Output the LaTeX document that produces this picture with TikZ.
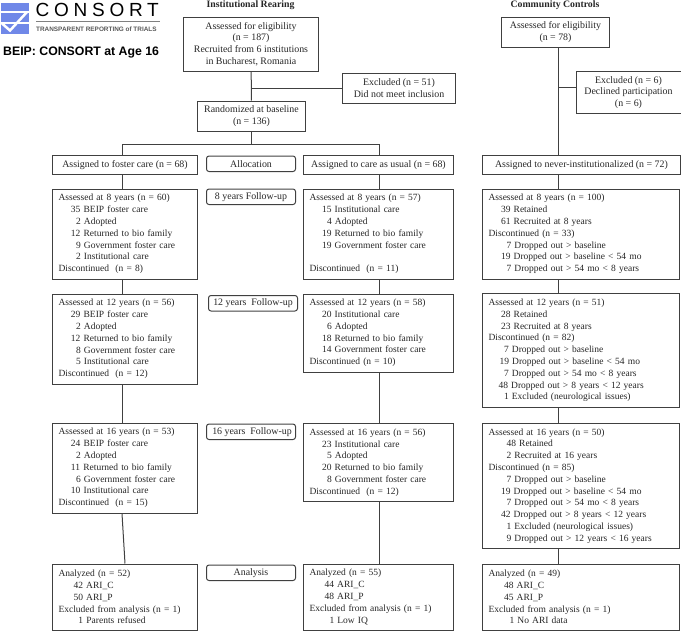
\documentclass[tikz,border=0pt]{standalone}
\usepackage{fontspec}
\setmainfont{Liberation Serif}
\newfontfamily\logofont[LetterSpace=25]{Liberation Sans}
\newfontfamily\sansfont{Liberation Sans}
\usetikzlibrary{positioning}
\definecolor{logoblue}{HTML}{7088E8}
\definecolor{linegrey}{HTML}{404040}
\definecolor{textgrey}{HTML}{262626}
\newcommand{\ind}[1]{\hspace*{#1pt}}
\tikzset{
  basebox/.style={draw=linegrey,line width=1pt,anchor=north west,inner ysep=0pt,text=textgrey},
  listbox/.style={basebox,align=left,inner xsep=6pt,text width=#1pt-12pt,font=\fontsize{9.5}{11.8}\selectfont},
  midbox/.style={basebox,align=center,inner xsep=0pt,font=\fontsize{9.9}{11.8}\selectfont},
  tagbox/.style={midbox,rounded corners=2.5pt,minimum width=89pt,minimum height=15.5pt},
  conn/.style={draw=linegrey,line width=1pt},
  head/.style={font=\fontsize{9.8}{11}\selectfont\bfseries,text=textgrey}
}
\begin{document}
\begin{tikzpicture}[x=1pt,y=1pt]
  \useasboundingbox (0,0) rectangle (681,-632);
  % Logo
  \fill[logoblue] (1,-2.5) rectangle (29,-33.5);
  \fill[white] (1,-11) rectangle (29,-13);
  \fill[white] (1,-21.5) rectangle (29,-23.5);
  \draw[white,line width=2.5pt] (2,-23.5) -- (10,-30.5) -- (27,-12);
  \node[anchor=west,inner sep=0pt,font=\logofont\fontsize{19}{20}\selectfont] (logoname) at (35.5,-10) {CONSORT};
  \draw[black!50,line width=0.6pt] (36,-21) -- (160,-21);
  \node[anchor=west,inner sep=0pt,text=black!65,font=\sansfont\bfseries\fontsize{6.4}{8}\selectfont] (logosub) at (36,-29) {TRANSPARENT REPORTING of TRIALS};
  \node[anchor=west,inner sep=0pt,font=\sansfont\bfseries\fontsize{12.3}{14}\selectfont] (title) at (3,-52.5) {BEIP: CONSORT at Age 16};
  % Column heads
  \node[head] (insthead) at (250.5,-5) {Institutional Rearing};
  \node[head] (commhead) at (555,-5) {Community Controls};
  % Enrolment
  \node[midbox,minimum width=135pt,minimum height=54pt] (assess) at (183,-16.5) {Assessed for eligibility\\(n = 187)\\Recruited from 6 institutions\\in Bucharest, Romania};
  \node[midbox,minimum width=108pt,minimum height=30pt] (random) at (197,-100.5) {Randomized at baseline\\(n = 136)};
  \node[midbox,minimum width=113pt,minimum height=30pt] (excl) at (342,-73) {Excluded (n = 51)\\Did not meet inclusion};
  \node[midbox,minimum width=108pt,minimum height=30pt] (commtop) at (501,-16.5) {Assessed for eligibility\\(n = 78)};
  \node[midbox,minimum width=105pt,minimum height=42pt] (commexcl) at (575.5,-71) {Excluded (n = 6)\\Declined participation\\(n = 6)};
  % Allocation
  \node[midbox,minimum width=145pt,minimum height=18.5pt] (foster) at (52,-155) {Assigned to foster care (n = 68)};
  \node[tagbox] (taga) at (206,-155.5) {Allocation};
  \node[midbox,minimum width=150pt,minimum height=18.5pt] (care) at (303,-155) {Assigned to care as usual (n = 68)};
  \node[midbox,minimum width=198pt,minimum height=18.5pt] (never) at (482,-155) {Assigned to never-institutionalized (n = 72)};
  % Foster care column
  \node[listbox=145,minimum height=90pt] (left8) at (52,-188.5) {Assessed at 8 years (n = 60)\\\ind{12.5}35 BEIP foster care\\\ind{17.5}2 Adopted\\\ind{12.5}12 Returned to bio family\\\ind{17.5}9 Government foster care\\\ind{17.5}2 Institutional care\\Discontinued\ \ (n = 8)};
  \node[listbox=145,minimum height=90pt] (left12) at (52,-293.5) {Assessed at 12 years (n = 56)\\\ind{12.5}29 BEIP foster care\\\ind{17.5}2 Adopted\\\ind{12.5}12 Returned to bio family\\\ind{17.5}8 Government foster care\\\ind{17.5}5 Institutional care\\Discontinued\ \ (n = 12)};
  \node[listbox=145,minimum height=90pt] (left16) at (52,-422.5) {Assessed at 16 years (n = 53)\\\ind{12.5}24 BEIP foster care\\\ind{17.5}2 Adopted\\\ind{12.5}11 Returned to bio family\\\ind{17.5}6 Government foster care\\\ind{12.5}10 Institutional care\\Discontinued\ \ (n = 15)};
  \node[listbox=145,minimum height=66pt] (lefta) at (52,-563.5) {Analyzed (n = 52)\\\ind{15}42 ARI\_C\\\ind{15}50 ARI\_P\\Excluded from analysis (n = 1)\\\ind{20}1 Parents refused};
  % Follow-up tags
  \node[tagbox] (tag8) at (206,-188.5) {8 years Follow-up};
  \node[tagbox] (tag12) at (208,-295) {12 years\ \ Follow-up};
  \node[tagbox] (tag16) at (206,-423.5) {\ind{2}16 years\ \ Follow-up};
  \node[tagbox] (tagan) at (206,-564.5) {Analysis};
  % Care as usual column
  \node[listbox=150,minimum height=90pt] (mid8) at (303,-188.5) {Assessed at 8 years (n = 57)\\\ind{12.5}15 Institutional care\\\ind{17.5}4 Adopted\\\ind{12.5}19 Returned to bio family\\\ind{12.5}19 Government foster care\\[11.8pt]Discontinued\ \ (n = 11)};
  \node[listbox=150,minimum height=78pt] (mid12) at (303,-293.5) {Assessed at 12 years (n = 58)\\\ind{12.5}20 Institutional care\\\ind{17.5}6 Adopted\\\ind{12.5}18 Returned to bio family\\\ind{12.5}14 Government foster care\\Discontinued (n = 10)};
  \node[listbox=150,minimum height=78pt] (mid16) at (303,-423) {Assessed at 16 years (n = 56)\\\ind{12.5}23 Institutional care\\\ind{17.5}5 Adopted\\\ind{12.5}20 Returned to bio family\\\ind{17.5}8 Government foster care\\Discontinued\ \ (n = 12)};
  \node[listbox=150,minimum height=66pt] (mida) at (303,-563.5) {Analyzed (n = 55)\\\ind{15}44 ARI\_C\\\ind{15}48 ARI\_P\\Excluded from analysis (n = 1)\\\ind{20}1 Low IQ};
  % Community column
  \node[listbox=197,minimum height=90pt] (comm8) at (482,-188.5) {Assessed at 8 years (n = 100)\\\ind{12.5}39 Retained\\\ind{12.5}61 Recruited at 8 years\\Discontinued (n = 33)\\\ind{18}7 Dropped out > baseline\\\ind{12.5}19 Dropped out > baseline < 54 mo\\\ind{18}7 Dropped out > 54 mo < 8 years};
  \node[listbox=197,minimum height=114pt] (comm12) at (482,-293) {Assessed at 12 years (n = 51)\\\ind{12.5}28 Retained\\\ind{12.5}23 Recruited at 8 years\\Discontinued (n = 82)\\\ind{15.5}7 Dropped out > baseline\\\ind{11}19 Dropped out > baseline < 54 mo\\\ind{15.5}7 Dropped out > 54 mo < 8 years\\\ind{10}48 Dropped out > 8 years < 12 years\\\ind{15.5}1 Excluded (neurological issues)};
  \node[listbox=197,minimum height=125pt] (comm16) at (482,-423) {Assessed at 16 years (n = 50)\\\ind{18}48 Retained\\\ind{18}2 Recruited at 16 years\\Discontinued (n = 85)\\\ind{18}7 Dropped out > baseline\\\ind{12.5}19 Dropped out > baseline < 54 mo\\\ind{18}7 Dropped out > 54 mo < 8 years\\\ind{12.5}42 Dropped out > 8 years < 12 years\\\ind{18}1 Excluded (neurological issues)\\\ind{18}9 Dropped out > 12 years < 16 years};
  \node[listbox=197,minimum height=66pt] (comma) at (482,-563.5) {Analyzed (n = 49)\\\ind{15.5}48 ARI\_C\\\ind{15.5}45 ARI\_P\\Excluded from analysis (n = 1)\\\ind{21}1 No ARI data};
  % Connectors
  \coordinate (lsplit) at (122,-144);
  \coordinate (rsplit) at (379,-144);
  \coordinate (csplit) at (558,-87);
  \draw[conn] (assess) -- (random);
  \draw[conn] (assess |- excl) -- (excl);
  \draw[conn] (random) -- (random |- lsplit);
  \draw[conn] (lsplit |- foster.north) -- (lsplit) -- (rsplit) -- (rsplit |- care.north);
  \foreach \a/\b in {foster/left8,left8/left12,left12/left16} {
    \draw[conn] (lsplit |- \a.south) -- (lsplit |- \b.north);
  }
  \draw[conn] (lsplit |- left16.south) -- (lefta.north);
  \foreach \a/\b in {care/mid8,mid8/mid12,mid12/mid16,mid16/mida} {
    \draw[conn] (rsplit |- \a.south) -- (rsplit |- \b.north);
  }
  \draw[conn] (csplit |- commtop.south) -- (csplit |- never.north);
  \draw[conn] (csplit) -- (csplit -| commexcl.west);
  \foreach \a/\b in {never/comm8,comm8/comm12,comm12/comm16,comm16/comma} {
    \draw[conn] (csplit |- \a.south) -- (csplit |- \b.north);
  }
\end{tikzpicture}
\end{document}
